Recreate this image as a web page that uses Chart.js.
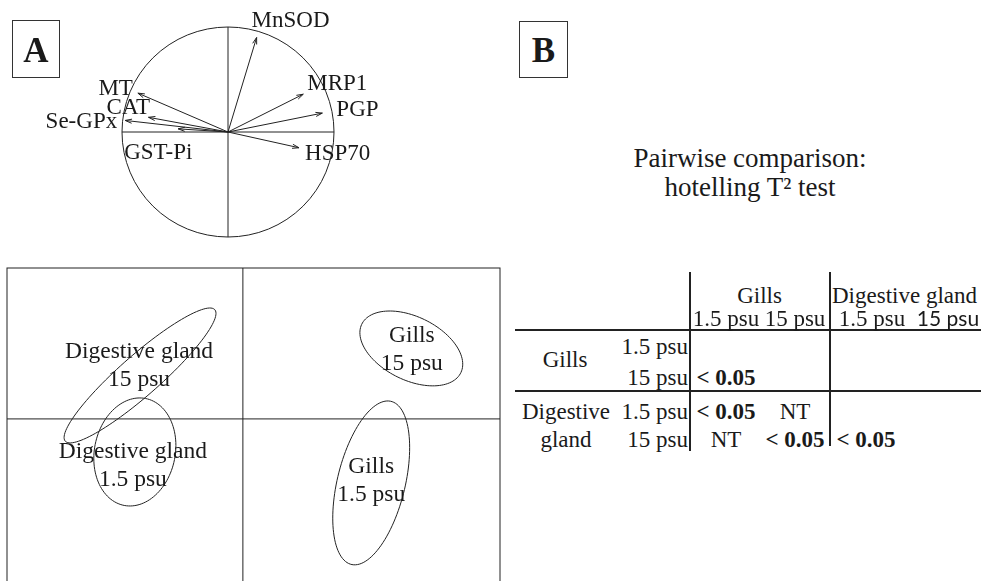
<!DOCTYPE html>
<html>
<head>
<meta charset="utf-8">
<script src="https://cdn.jsdelivr.net/npm/chart.js@4.4.0/dist/chart.umd.min.js"></script>
<style>
  body { margin: 0; width: 981px; height: 581px; overflow: hidden; background: #fff; position: relative;
         font-family: "Liberation Serif", "Times New Roman", serif; color: #1a1a1a; }
  .abs { position: absolute; white-space: nowrap; line-height: 1; }
  .panel { position: absolute; border: 1.5px solid #333; box-sizing: border-box; }
  .rule { position: absolute; background: #222; }
  #circleCanvas { position: absolute; left: 0; top: 0; }
  #scoreCanvas { position: absolute; left: 0; top: 260px; }
</style>
</head>
<body>
<canvas id="circleCanvas" width="500" height="260"></canvas>
<canvas id="scoreCanvas" width="520" height="340"></canvas>
<div class="panel" style="left:12px;top:20px;width:48px;height:58px"></div>
<div class="panel" style="left:519px;top:21px;width:49px;height:57px"></div>

<script>
// correlation circle: loadings of each biomarker on the two axes
var variables = ['MnSOD', 'MRP1', 'PGP', 'HSP70', 'MT', 'CAT', 'Se-GPx', 'GST-Pi'];
var axis1Loadings = [0.27, 0.71, 0.89, 0.67, -0.85, -0.75, -0.97, -0.47];
var axis2Loadings = [0.90, 0.36, 0.18, -0.15, 0.37, 0.14, 0.11, 0.03];

// score plot: one ellipse per tissue x salinity group
var groupTissue = ['Digestive gland', 'Digestive gland', 'Gills', 'Gills'];
var groupSalinity = ['15 psu', '1.5 psu', '15 psu', '1.5 psu'];
var centerX = [-0.436, -0.458, 0.714, 0.544];
var centerY = [0.288, -0.219, 0.467, -0.424];
var spreadX = [0.322, 0.174, 0.218, 0.163];
var spreadY = [0.447, 0.358, 0.248, 0.543];
var corrXY = [0.92, 0.12, -0.42, 0.43];

// pairwise hotelling T2 results (lower triangle)
var tissues = ['Gills', 'Digestive gland'];
var salinities = ['1.5 psu', '15 psu'];
var pairwise = [
    [],
    ['< 0.05'],
    ['< 0.05', 'NT'],
    ['NT', '< 0.05', '< 0.05']
];

var ink = '#1a1a1a';
var serif = '"Liberation Serif", "Times New Roman", serif';

// label placement for the circle (pixel offset from arrow tip)
var labelOffsets = {
    'MnSOD': [-5, -11, 'left'], 'MRP1': [4, -4, 'left'], 'PGP': [14, 3, 'left'],
    'HSP70': [6, 12, 'left'], 'MT': [-5, 2, 'right'], 'CAT': [1.5, -3, 'right'],
    'Se-GPx': [-8, 7.5, 'right'], 'GST-Pi': [-54, 30, 'left']
};

function arrow(ctx, x0, y0, x1, y1) {
    var a = Math.atan2(y1 - y0, x1 - x0);
    var h = 7;
    ctx.beginPath();
    ctx.moveTo(x0, y0);
    ctx.lineTo(x1, y1);
    ctx.moveTo(x1 - h * Math.cos(a - 0.3), y1 - h * Math.sin(a - 0.3));
    ctx.lineTo(x1, y1);
    ctx.lineTo(x1 - h * Math.cos(a + 0.3), y1 - h * Math.sin(a + 0.3));
    ctx.stroke();
}

var circlePlugin = {
    id: 'circlePlugin',
    afterDatasetsDraw: function(chart) {
        var ctx = chart.ctx, xs = chart.scales.x, ys = chart.scales.y;
        var cx = xs.getPixelForValue(0), cy = ys.getPixelForValue(0);
        ctx.save();
        ctx.strokeStyle = '#222';
        ctx.lineWidth = 1;
        ctx.beginPath();
        ctx.ellipse(cx, cy, xs.getPixelForValue(1) - cx, cy - ys.getPixelForValue(1), 0, 0, 2 * Math.PI);
        ctx.stroke();
        ctx.font = '23px ' + serif;
        ctx.fillStyle = ink;
        for (var i = 0; i < variables.length; i++) {
            var px = xs.getPixelForValue(axis1Loadings[i]);
            var py = ys.getPixelForValue(axis2Loadings[i]);
            arrow(ctx, cx, cy, px, py);
            var off = labelOffsets[variables[i]];
            ctx.textAlign = off[2];
            ctx.fillText(variables[i], px + off[0], py + off[1]);
        }
        ctx.restore();
    }
};

new Chart(document.getElementById('circleCanvas'), {
    type: 'scatter',
    data: {
        datasets: [
            { data: [{x: -1, y: 0}, {x: 1, y: 0}], showLine: true, pointRadius: 0, borderColor: '#222', borderWidth: 1 },
            { data: [{x: 0, y: -1}, {x: 0, y: 1}], showLine: true, pointRadius: 0, borderColor: '#222', borderWidth: 1 }
        ]
    },
    options: {
        responsive: false,
        animation: false,
        layout: { padding: { left: 122, right: 166, top: 27, bottom: 23 } },
        plugins: { legend: { display: false }, tooltip: { enabled: false } },
        scales: {
            x: { min: -1, max: 1, display: false },
            y: { min: -1, max: 1, display: false }
        }
    },
    plugins: [circlePlugin]
});

// label placement for score plot groups: [dx, dy of first line] from ellipse centre
var groupLabelOffsets = [[-1, -17.5], [-2, 6], [0.5, -6.5], [0, -10]];

var ellipsePlugin = {
    id: 'ellipsePlugin',
    afterDatasetsDraw: function(chart) {
        var ctx = chart.ctx, xs = chart.scales.x, ys = chart.scales.y, area = chart.chartArea;
        ctx.save();
        ctx.strokeStyle = '#222';
        ctx.lineWidth = 1;
        ctx.strokeRect(area.left, area.top, area.right - area.left, area.bottom - area.top);
        ctx.font = '23.5px ' + serif;
        ctx.fillStyle = ink;
        ctx.textAlign = 'center';
        for (var g = 0; g < centerX.length; g++) {
            var r = corrXY[g], q = Math.sqrt(1 - r * r);
            ctx.beginPath();
            for (var k = 0; k <= 120; k++) {
                var t = k / 120 * 2 * Math.PI;
                var vx = centerX[g] + spreadX[g] * Math.cos(t);
                var vy = centerY[g] + spreadY[g] * (r * Math.cos(t) + q * Math.sin(t));
                var px = xs.getPixelForValue(vx), py = ys.getPixelForValue(vy);
                if (k === 0) ctx.moveTo(px, py); else ctx.lineTo(px, py);
            }
            ctx.closePath();
            ctx.stroke();
            var lx = xs.getPixelForValue(centerX[g]) + groupLabelOffsets[g][0];
            var ly = ys.getPixelForValue(centerY[g]) + groupLabelOffsets[g][1];
            ctx.fillText(groupTissue[g], lx, ly);
            ctx.fillText(groupSalinity[g], lx, ly + 28.5);
        }
        ctx.restore();
    }
};

new Chart(document.getElementById('scoreCanvas'), {
    type: 'scatter',
    data: {
        datasets: [
            { data: [{x: -1, y: 0}, {x: 1.09, y: 0}], showLine: true, pointRadius: 0, borderColor: '#222', borderWidth: 1 },
            { data: [{x: 0, y: -1.2}, {x: 0, y: 1}], showLine: true, pointRadius: 0, borderColor: '#222', borderWidth: 1 }
        ]
    },
    options: {
        responsive: false,
        animation: false,
        layout: { padding: { left: 7, right: 20, top: 8, bottom: 0 } },
        plugins: { legend: { display: false }, tooltip: { enabled: false } },
        scales: {
            x: { min: -1, max: 1.09, display: false },
            y: { min: -1.2, max: 1, display: false }
        }
    },
    plugins: [ellipsePlugin]
});

// panel B: letters, title and the table as html text
function addText(txt, x, baseline, o) {
    o = o || {};
    var size = o.size || 23;
    var d = document.createElement('div');
    d.className = 'abs';
    d.textContent = txt;
    d.style.fontSize = size + 'px';
    if (o.sans) d.style.fontFamily = 'Lato, "Open Sans", sans-serif';
    if (o.bold) d.style.fontWeight = 'bold';
    d.style.left = x + 'px';
    d.style.top = (baseline - (o.sans ? 0.887 : 0.8375) * size) + 'px';
    if (o.align === 'center') d.style.transform = 'translateX(-50%)';
    if (o.align === 'right') d.style.transform = 'translateX(-100%)';
    document.body.appendChild(d);
}
function addRule(x, y, w, h) {
    var d = document.createElement('div');
    d.className = 'rule';
    d.style.left = x + 'px'; d.style.top = y + 'px';
    d.style.width = w + 'px'; d.style.height = h + 'px';
    document.body.appendChild(d);
}

addText('A', 36, 62, { size: 35, bold: true, align: 'center' });
addText('B', 543.5, 62, { size: 35, bold: true, align: 'center' });
addText('Pairwise comparison:', 750, 168, { size: 27, align: 'center' });
addText('hotelling T\u00b2 test', 750, 197, { size: 27, align: 'center' });

addRule(689, 272, 1.5, 179);
addRule(829, 272, 1.5, 174);
addRule(515, 329, 466, 2);
addRule(515, 390, 466, 2);

var colCenters = [726, 795, 866, 948];
var rowBaselines = [354, 385, 419, 447];
addText(tissues[0], 759.5, 303, { align: 'center' });
addText(tissues[1], 832, 303);
addText(salinities[0], colCenters[0], 326, { align: 'center' });
addText(salinities[1], colCenters[1], 326, { align: 'center' });
addText(salinities[0], 872, 326, { align: 'center' });
addText(salinities[1], colCenters[3], 326, { align: 'center', sans: true, size: 21 });

addText(tissues[0], 565, 367, { align: 'center' });
addText('Digestive', 566, rowBaselines[2], { align: 'center' });
addText('gland', 566, rowBaselines[3], { align: 'center' });
for (var r = 0; r < 4; r++) {
    addText(salinities[r % 2], 688, rowBaselines[r], { align: 'right' });
    for (var c = 0; c < pairwise[r].length; c++) {
        var v = pairwise[r][c];
        addText(v, colCenters[c], rowBaselines[r], { align: 'center', bold: v !== 'NT' });
    }
}
</script>
</body>
</html>
